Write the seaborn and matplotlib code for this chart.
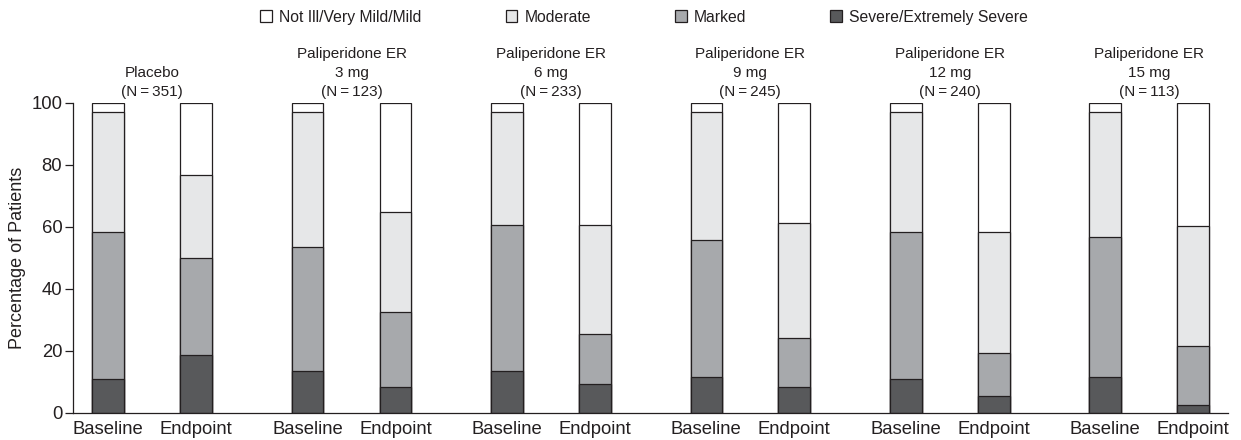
import numpy as np
import pandas as pd
import matplotlib
matplotlib.use("Agg")
import matplotlib.pyplot as plt
from matplotlib.patches import Patch
import seaborn as sns

# ---- data ----
groups = ["Placebo\n(N\u2009=\u2009351)",
          "Paliperidone ER\n3 mg\n(N\u2009=\u2009123)",
          "Paliperidone ER\n6 mg\n(N\u2009=\u2009233)",
          "Paliperidone ER\n9 mg\n(N\u2009=\u2009245)",
          "Paliperidone ER\n12 mg\n(N\u2009=\u2009240)",
          "Paliperidone ER\n15 mg\n(N\u2009=\u2009113)"]
stages = ["Baseline", "Endpoint"]
categories = ["Not Ill/Very Mild/Mild", "Moderate", "Marked", "Severe/Extremely Severe"]

# percentages per bar (order: Placebo B, Placebo E, 3mg B, 3mg E, ...)
severe   = [11.0, 18.7, 13.4, 8.4, 13.4, 9.2, 11.4, 8.2, 11.0, 5.3, 11.4, 2.6]
marked   = [47.3, 31.3, 40.2, 24.1, 47.1, 16.2, 44.3, 16.0, 47.3, 14.0, 45.4, 19.0]
moderate = [38.7, 26.8, 43.4, 32.4, 36.5, 35.1, 41.3, 37.1, 38.7, 39.0, 40.2, 38.8]
not_ill  = [3.0, 23.2, 3.0, 35.1, 3.0, 39.5, 3.0, 38.7, 3.0, 41.7, 3.0, 39.6]

colors = {"Not Ill/Very Mild/Mild": "#ffffff",
          "Moderate": "#e6e7e8",
          "Marked": "#a7a9ac",
          "Severe/Extremely Severe": "#58595b"}
edge = "#231f20"

# ---- layout helpers ----
stage_offset = 0.441
xpos = []
for gi in range(len(groups)):
    for si in range(len(stages)):
        xpos.append(gi + si * stage_offset)

df = pd.DataFrame({
    "x": xpos,
    "stage": stages * len(groups),
    "severe": severe, "marked": marked, "moderate": moderate, "not_ill": not_ill,
})
df["cum_sev"] = df["severe"]
df["cum_mark"] = df["cum_sev"] + df["marked"]
df["cum_mod"] = df["cum_mark"] + df["moderate"]
df["cum_all"] = df["cum_mod"] + df["not_ill"]

sns.set_style("ticks")
plt.rcParams["font.family"] = ["Liberation Sans", "DejaVu Sans"]

fig = plt.figure(figsize=(12.41, 4.40), dpi=100)
ax = fig.add_axes([0.0586, 0.062, 0.9309, 0.704])

bar_w = 0.159 / stage_offset
layers = [("cum_all", categories[0]), ("cum_mod", categories[1]),
          ("cum_mark", categories[2]), ("cum_sev", categories[3])]
for col, cat in layers:
    sns.barplot(data=df, x="x", y=col, native_scale=True, width=bar_w,
                color=colors[cat], saturation=1, edgecolor=edge, linewidth=0.9,
                errorbar=None, ax=ax)

ax.set_xlim(-0.178, 5.616)
ax.set_ylim(0, 100)
ax.set_yticks([0, 20, 40, 60, 80, 100])
ax.set_xticks(xpos)
ax.set_xticklabels(df["stage"], fontsize=13.3)
ax.tick_params(axis="x", length=0, pad=6, colors="#231f20")
ax.tick_params(axis="y", length=5.5, width=0.9, labelsize=13.3, pad=2, colors="#231f20")
ax.set_xlabel("")
ax.set_ylabel("Percentage of Patients", fontsize=13, labelpad=4, color="#231f20")
for s in ["top", "right"]:
    ax.spines[s].set_visible(False)
for s in ["left", "bottom"]:
    ax.spines[s].set_color("#231f20")
    ax.spines[s].set_linewidth(0.9)

for gi, g in enumerate(groups):
    ax.annotate(g, xy=(gi + stage_offset / 2, 100), xytext=(0, 3),
                textcoords="offset points", ha="center", va="bottom",
                fontsize=11, linespacing=1.45, color="#231f20",
                annotation_clip=False)

handles = [Patch(facecolor=colors[c], edgecolor=edge, linewidth=0.9, label=c)
           for c in categories]
leg = fig.legend(handles=handles, loc="center", bbox_to_anchor=(0.519, 0.961), ncol=4,
                 frameon=False, fontsize=11.3, handlelength=0.75, handleheight=0.75,
                 handletextpad=0.45, columnspacing=5.35)
for t in leg.get_texts():
    t.set_color("#231f20")

fig.savefig("out.png", dpi=100)
